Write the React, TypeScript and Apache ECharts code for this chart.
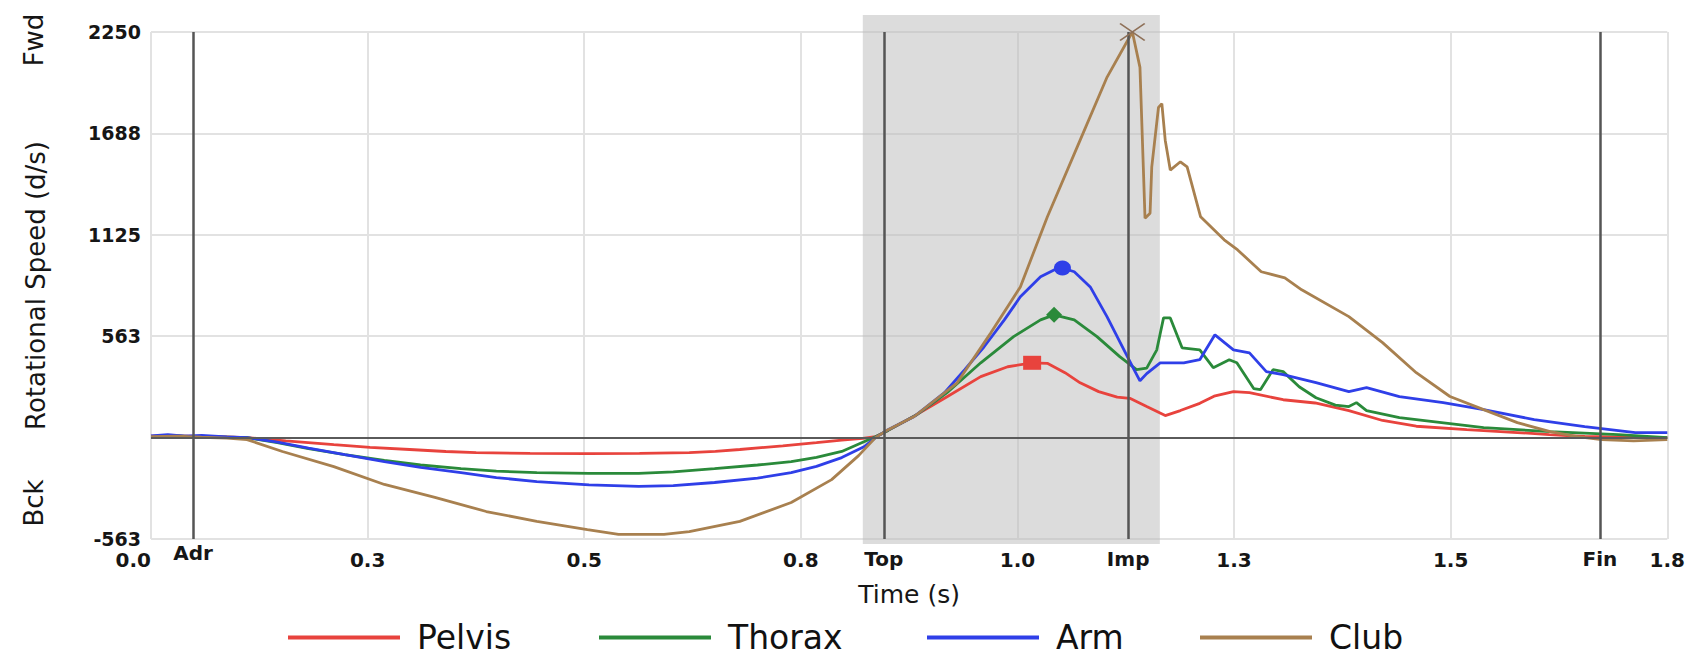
import React, { useEffect, useRef } from "react";
import * as echarts from "echarts";

// ---- data ----
const seriesNames = ["Pelvis", "Thorax", "Arm", "Club"];
const seriesColors = ["#e8433d", "#2a8a3a", "#2f3fe8", "#a8804f"];

const pelvis: number[][] = [
  [0, 8], [0.03, 10], [0.06, 6], [0.09, 4], [0.114, 0], [0.16, -18], [0.217, -39], [0.26, -54],
  [0.307, -66], [0.35, -77], [0.386, -83], [0.45, -88], [0.518, -89], [0.58, -88], [0.639, -83],
  [0.67, -76], [0.699, -66], [0.75, -46], [0.79, -28], [0.82, -14], [0.845, -4], [0.86, 5],
  [0.875, 40], [0.91, 130], [0.945, 227], [0.985, 338], [1.017, 393], [1.046, 415], [1.064, 412],
  [1.085, 360], [1.103, 304], [1.125, 255], [1.147, 225], [1.162, 218], [1.182, 172], [1.204, 122],
  [1.222, 150], [1.245, 190], [1.262, 230], [1.285, 255], [1.304, 249], [1.344, 210], [1.382, 192],
  [1.422, 150], [1.462, 95], [1.502, 63], [1.562, 44], [1.622, 28], [1.66, 17], [1.702, 6],
  [1.75, 2], [1.8, 0],
];

const thorax: number[][] = [
  [0, 6], [0.03, 9], [0.06, 4], [0.09, 2], [0.114, 0], [0.15, -28], [0.187, -61], [0.23, -95],
  [0.277, -127], [0.32, -152], [0.368, -172], [0.41, -186], [0.458, -194], [0.52, -198],
  [0.579, -199], [0.62, -190], [0.669, -172], [0.72, -152], [0.76, -133], [0.79, -110],
  [0.82, -77], [0.847, -22], [0.86, 5], [0.875, 40], [0.91, 130], [0.945, 249], [0.985, 415],
  [1.024, 560], [1.056, 653], [1.072, 681], [1.096, 653], [1.123, 560], [1.15, 449], [1.17, 377],
  [1.182, 385], [1.194, 487], [1.202, 664], [1.21, 664], [1.224, 498], [1.245, 487], [1.261, 388],
  [1.28, 432], [1.289, 415], [1.309, 272], [1.317, 266], [1.332, 377], [1.344, 366], [1.363, 282],
  [1.383, 221], [1.406, 180], [1.422, 172], [1.431, 194], [1.443, 150], [1.482, 111], [1.522, 89],
  [1.582, 55], [1.661, 33], [1.742, 17], [1.8, 0],
];

const arm: number[][] = [
  [0, 10], [0.02, 16], [0.04, 8], [0.06, 12], [0.09, 4], [0.114, 0], [0.15, -25], [0.187, -58],
  [0.23, -95], [0.277, -133], [0.32, -165], [0.368, -194], [0.41, -222], [0.458, -244],
  [0.52, -262], [0.579, -271], [0.62, -266], [0.669, -249], [0.72, -225], [0.76, -194],
  [0.79, -160], [0.82, -111], [0.847, -50], [0.86, 0], [0.875, 44], [0.906, 117], [0.942, 249],
  [0.966, 377], [0.989, 504], [1.013, 653], [1.032, 781], [1.056, 892], [1.072, 930], [1.082, 941],
  [1.096, 920], [1.115, 836], [1.135, 670], [1.155, 487], [1.167, 377], [1.174, 315], [1.182, 355],
  [1.198, 415], [1.226, 415], [1.245, 432], [1.263, 570], [1.285, 487], [1.304, 470], [1.324, 366],
  [1.344, 349], [1.383, 305], [1.422, 255], [1.443, 277], [1.482, 227], [1.534, 194], [1.582, 155],
  [1.642, 100], [1.702, 61], [1.762, 28], [1.8, 28],
];

const club: number[][] = [
  [0, 5], [0.03, 8], [0.06, 2], [0.09, -3], [0.114, -11], [0.156, -77], [0.217, -161],
  [0.277, -260], [0.337, -332], [0.398, -410], [0.458, -465], [0.518, -510], [0.555, -537],
  [0.609, -537], [0.639, -521], [0.699, -465], [0.76, -360], [0.808, -233], [0.84, -100],
  [0.86, 0], [0.875, 44], [0.906, 117], [0.957, 304], [0.997, 581], [1.032, 836], [1.064, 1224],
  [1.103, 1650], [1.135, 2000], [1.165, 2250], [1.174, 2054], [1.178, 1500], [1.18, 1217],
  [1.186, 1245], [1.188, 1500], [1.196, 1832], [1.2, 1853], [1.204, 1650], [1.21, 1484],
  [1.222, 1530], [1.23, 1502], [1.246, 1225], [1.274, 1097], [1.29, 1041], [1.318, 920],
  [1.346, 886], [1.366, 820], [1.422, 671], [1.462, 527], [1.502, 360], [1.542, 228], [1.582, 155],
  [1.622, 83], [1.661, 33], [1.693, 6], [1.722, -11], [1.76, -18], [1.8, -11],
];

const seriesData = [pelvis, thorax, arm, club];

// peak markers [time, value]
const peakPelvis = [1.046, 415];
const peakThorax = [1.072, 681];
const peakArm = [1.082, 941];
const peakClub = [1.165, 2250];

// swing events
const eventNames = ["Adr", "Top", "Imp", "Fin"];
const eventTimes = [0.0544, 0.8745, 1.1645, 1.716];
const shadeRange = [0.845, 1.1976];

const xMin = 0;
const xMax = 1.8;
const yMin = -562.5;
const yMax = 2250;
const yInterval = 562.5;

const FONT = "DejaVu Sans";
const X_MARK =
  "path://M0,1 L1,0 L10,9 L19,0 L20,1 L11,10 L20,19 L19,20 L10,11 L1,20 L0,19 L9,10 Z";

export default function App() {
  const ref = useRef<HTMLDivElement>(null);

  useEffect(() => {
    if (!ref.current) return;
    const chart = echarts.init(ref.current, undefined, { renderer: "svg" });

    const peaks = [
      { coord: peakPelvis, symbol: "rect", symbolSize: [18, 14] },
      { coord: peakThorax, symbol: "diamond", symbolSize: [16, 16] },
      { coord: peakArm, symbol: "circle", symbolSize: [17, 15] },
      { coord: peakClub, symbol: X_MARK, symbolSize: [26, 18] },
    ];

    const lineSeries = seriesNames.map((name, i) => ({
      name,
      type: "line",
      data: seriesData[i],
      showSymbol: false,
      symbol: "none",
      color: seriesColors[i],
      lineStyle: { width: 2.8, color: seriesColors[i] },
      emphasis: { disabled: true },
      z: 3,
      markPoint: {
        silent: true,
        label: { show: false },
        itemStyle: { color: i === 3 ? "#8e7058" : seriesColors[i] },
        data: [peaks[i]],
      },
    }));

    const eventSeries = {
      name: "events",
      type: "line",
      data: [] as number[][],
      showSymbol: false,
      z: 2,
      markLine: {
        silent: true,
        symbol: "none",
        animation: false,
        data: [
          { yAxis: 0, label: { show: false }, lineStyle: { color: "#5a5a5a", width: 2, type: "solid" } },
          ...eventNames.map((n, i) => ({
            xAxis: eventTimes[i],
            label: {
              show: true,
              position: "start",
              formatter: n,
              distance: i === 0 ? 4 : 10,
              fontFamily: FONT,
              fontWeight: "bold",
              fontSize: 20,
              color: "#161616",
            },
            lineStyle: { color: "#555", width: 2.5, type: "solid" },
          })),
        ],
      },
    };

    const legendLefts = [288, 599, 927, 1200];

    chart.setOption({
      animation: false,
      backgroundColor: "#ffffff",
      grid: { left: 151, right: 16, top: 32, bottom: 122, containLabel: false },
      xAxis: {
        type: "value",
        min: xMin,
        max: xMax,
        interval: (xMax - xMin) / 7,
        name: "Time (s)",
        nameLocation: "middle",
        nameGap: 43,
        nameTextStyle: { fontFamily: FONT, fontSize: 25, color: "#161616" },
        axisLine: { show: false },
        axisTick: { show: false },
        axisLabel: {
          margin: 11,
          fontFamily: FONT,
          fontWeight: "bold",
          fontSize: 20,
          color: "#161616",
          alignMinLabel: "right",
          formatter: (v: number) => v.toFixed(1),
        },
        splitLine: { show: true, lineStyle: { color: "#e2e2e2", width: 2 } },
      },
      yAxis: {
        type: "value",
        min: yMin,
        max: yMax,
        interval: yInterval,
        name: "Rotational Speed (d/s)",
        nameLocation: "middle",
        nameRotate: 90,
        nameGap: 102,
        nameTextStyle: { fontFamily: FONT, fontSize: 26, color: "#161616" },
        axisLine: { show: false },
        axisTick: { show: false },
        axisLabel: {
          margin: 10,
          fontFamily: FONT,
          fontWeight: "bold",
          fontSize: 19,
          color: "#161616",
          formatter: (v: number) =>
            v === 0 ? "" : (v < 0 ? "-" : "") + String(Math.round(Math.abs(v))),
        },
        splitLine: { show: true, lineStyle: { color: "#e2e2e2", width: 2 } },
      },
      legend: seriesNames.map((n, i) => ({
        data: [n],
        left: legendLefts[i],
        top: 621,
        padding: 0,
        icon: "rect",
        itemWidth: 112,
        itemHeight: 4,
        selectedMode: false,
        textStyle: {
          fontFamily: FONT,
          fontSize: 33,
          color: "#111",
          padding: [0, 0, 0, 12],
        },
      })),
      series: [eventSeries, ...lineSeries],
    });

    // shaded downswing band, positioned through the axes' own scales
    const sx0 = chart.convertToPixel({ xAxisIndex: 0 }, shadeRange[0]) as number;
    const sx1 = chart.convertToPixel({ xAxisIndex: 0 }, shadeRange[1]) as number;
    const syTop = (chart.convertToPixel({ yAxisIndex: 0 }, yMax) as number) - 17;
    const syBot = (chart.convertToPixel({ yAxisIndex: 0 }, yMin) as number) + 5;

    chart.setOption({
      graphic: [
        {
          type: "rect",
          silent: true,
          z: 1,
          shape: { x: sx0, y: syTop, width: sx1 - sx0, height: syBot - syTop },
          style: { fill: "rgba(185,185,185,0.5)" },
        },
        {
          type: "text",
          x: 34,
          y: 40,
          rotation: Math.PI / 2,
          style: {
            text: "Fwd",
            fontFamily: FONT,
            fontSize: 26,
            fill: "#161616",
            align: "center",
            verticalAlign: "middle",
          },
        },
        {
          type: "text",
          x: 34,
          y: 503,
          rotation: Math.PI / 2,
          style: {
            text: "Bck",
            fontFamily: FONT,
            fontSize: 26,
            fill: "#161616",
            align: "center",
            verticalAlign: "middle",
          },
        },
      ],
    });

    return () => chart.dispose();
  }, []);

  return (
    <div
      ref={ref}
      style={{ position: "absolute", left: 0, top: 0, width: 1688, height: 661 }}
    />
  );
}
